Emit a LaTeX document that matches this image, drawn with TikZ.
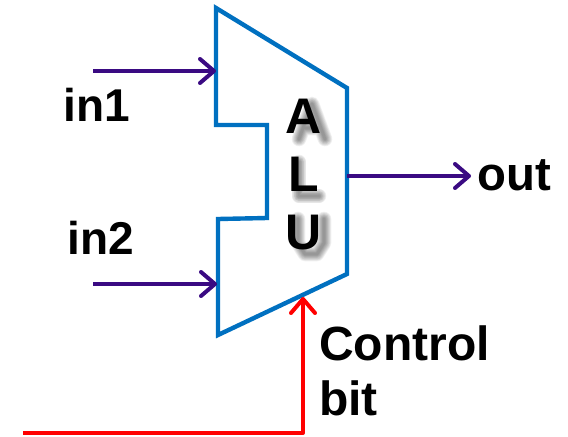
\documentclass[tikz,border=0pt]{standalone}
\usepackage{fontspec}
\setmainfont{Liberation Sans}
\usetikzlibrary{arrows.meta}
\tikzset{
  label/.style={font=\fontsize{34.5}{41}\selectfont\bfseries, inner sep=0pt, anchor=base west, align=left},
  barb/.style={-{Straight Barb[length=10.5pt, width=18pt, round]}, line width=3pt},
  wire/.style={barb, color=wirepurple},
  ctrl/.style={barb, color=red},
  body/.style={line width=3.3pt, color=alublue, line join=miter},
  blur/.style={line cap=round, line join=round, color=black, opacity=0.05}
}
\definecolor{alublue}{HTML}{0070C0}
\definecolor{wirepurple}{HTML}{3A0A82}
\begin{document}
\begin{tikzpicture}[x=0.75pt, y=-0.75pt]
    \useasboundingbox (0,0) rectangle (568,436);

    \foreach \w in {2,3,4,5,6,7,8,9,10,11} {
      \draw[blur, line width=\w pt] (299,139) -- (312,104) -- (325,139) (305,128) -- (319,128);
      \draw[blur, line width=\w pt] (299,162) -- (299,196) -- (319,196);
      \draw[blur, line width=\w pt] (298,219) -- (298,243) -- (305,254) -- (317,254) -- (324,243) -- (324,219);
    }

    \coordinate (top) at (216,8);
    \coordinate (topright) at (347,88);
    \coordinate (botright) at (347,274);
    \coordinate (bot) at (218,335);
    \coordinate (notchlb) at (218,219);
    \coordinate (notchrb) at (267,218);
    \coordinate (notchrt) at (267,125);
    \coordinate (notchlt) at (216,125);
    \draw[body] (top) -- (topright) -- (botright) -- (bot) -- (notchlb) -- (notchrb) -- (notchrt) -- (notchlt) -- cycle;

    \node[font=\fontsize{37.5}{43.5}\selectfont\bfseries, align=center, inner sep=0pt, anchor=base] (alu) at (304,249) {A\\L\\U};

    \coordinate (in1start) at (93,71);
    \coordinate (in1end) at (216,71);
    \coordinate (in2start) at (93,284);
    \coordinate (in2end) at (217,284);
    \coordinate (outstart) at (347,176);
    \coordinate (outend) at (471,176);
    \draw[wire] (in1start) -- (in1end);
    \draw[wire] (in2start) -- (in2end);
    \draw[wire] (outstart) -- (outend);

    \coordinate (ctrlstart) at (23,433);
    \coordinate (ctrlend) at (303,297);
    \draw[ctrl, line join=round] (ctrlstart) -| (ctrlend);

    \node[label] (in1) at (63,121) {in1};
    \node[label] (in2) at (67,254) {in2};
    \node[label, font=\fontsize{35.5}{41}\selectfont\bfseries] (out) at (477,190) {out};
    \node[label, font=\fontsize{36}{41}\selectfont\bfseries] (control) at (319,415) {Control\\bit};
\end{tikzpicture}
\end{document}
